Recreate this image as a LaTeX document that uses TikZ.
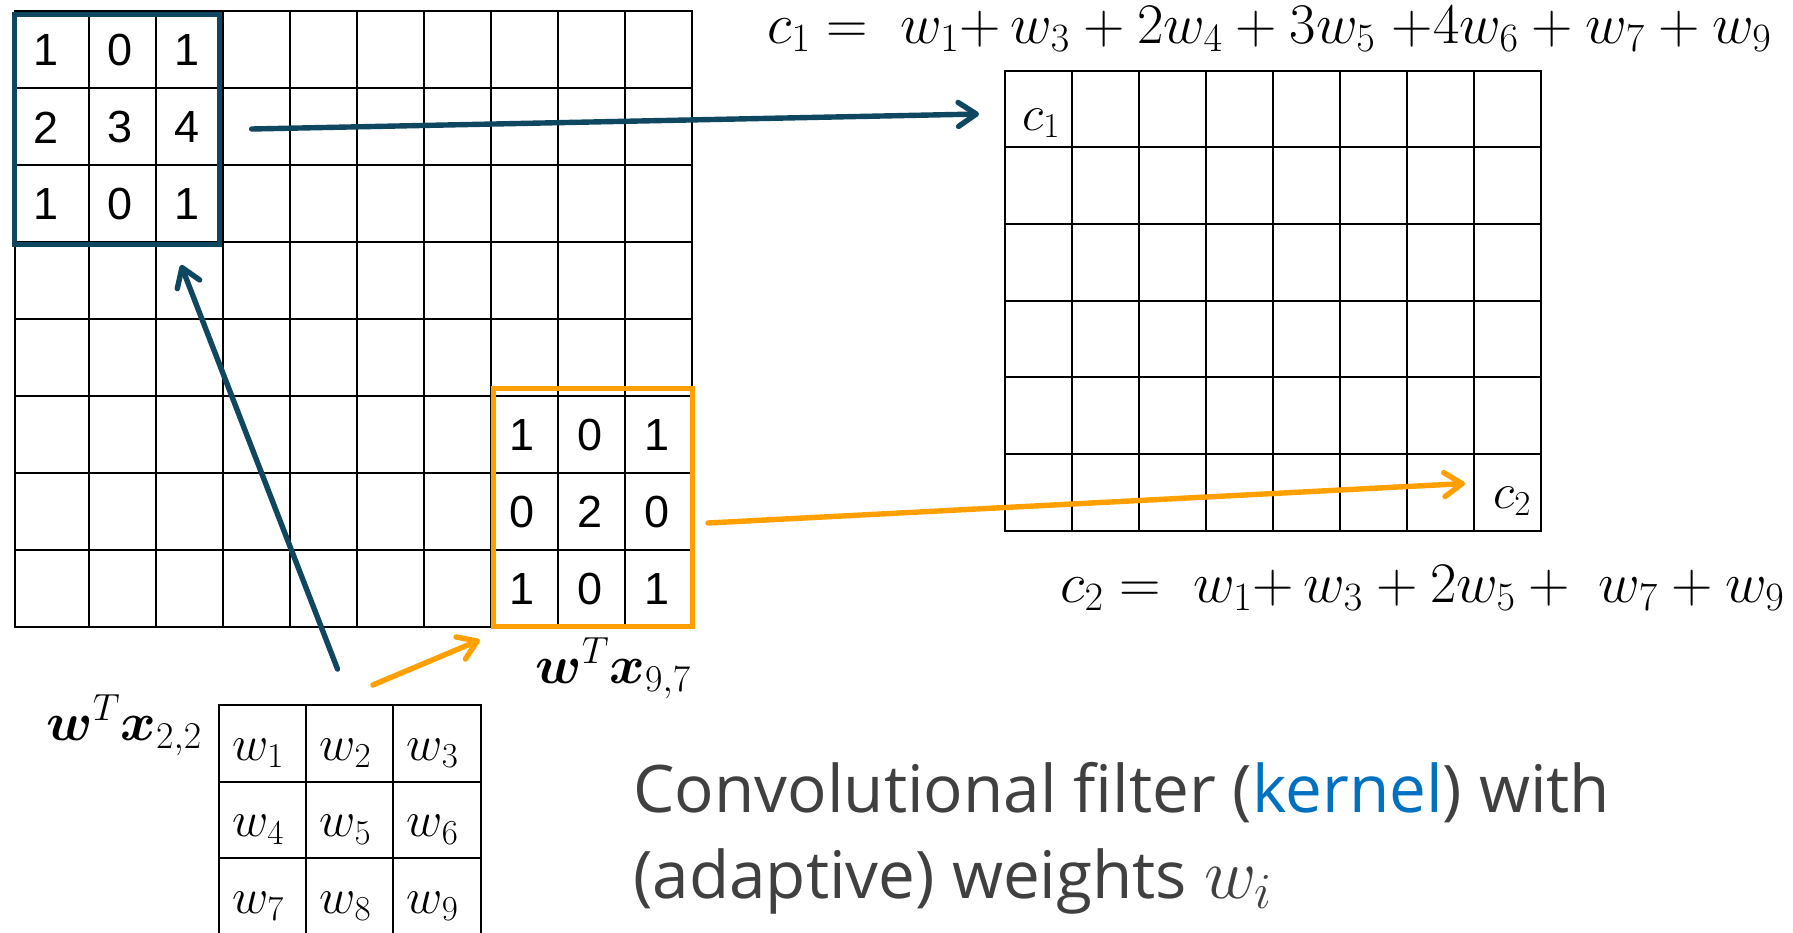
\RequirePackage{fix-cm}
\documentclass[tikz,border=0pt]{standalone}
\usepackage{amsmath, amssymb, bm}
\usepackage{fontspec}
\usepackage{tikz}
\usetikzlibrary{arrows.meta}
\newfontfamily\digitfont{Liberation Sans}
\newfontfamily\slidefont{Open Sans}
\definecolor{winblue}{HTML}{0F4761}
\definecolor{winorange}{HTML}{FFA000}
\definecolor{kernelblue}{HTML}{0070C0}
\definecolor{slidegray}{HTML}{404040}

\begin{document}
\begin{tikzpicture}[x=0.5pt, y=-0.5pt,
    gridline/.style={line width=1pt, line cap=rect, black},
    window/.style={line width=2.5pt},
    entry/.style={inner sep=0pt, font=\digitfont\fontsize{22.5}{26}\selectfont},
    weight/.style={inner sep=0pt, anchor=base west, font=\fontsize{25}{28}\selectfont},
    mathlabel/.style={inner sep=0pt, anchor=base west, font=\fontsize{27}{30}\selectfont},
    formula/.style={inner sep=0pt, anchor=base west, font=\fontsize{28.7}{32}\selectfont},
    slidetext/.style={inner sep=0pt, anchor=base west, text=slidegray, font=\slidefont\fontsize{32.8}{40}\selectfont},
    link/.style={line width=2.7pt, line cap=round, -{Straight Barb[round, length=9pt, width=12pt]}}]
    \useasboundingbox (0,0) rectangle (1793,932);

    % input image
    \foreach \x in {14.7, 88.6, 156.1, 223.1, 290.2, 357.2, 424.2, 491.3, 558.3, 625.3, 692.4}
        \draw[gridline] (\x, 11.4) -- (\x, 626.6);
    \foreach \k in {0,...,8}
        \draw[gridline] (14.7, 11.4+76.9*\k) -- (692.4, 11.4+76.9*\k);

    % feature map
    \foreach \k in {0,...,8}
        \draw[gridline] (1005+67*\k, 70.8) -- (1005+67*\k, 530.7);
    \foreach \k in {0,...,6}
        \draw[gridline] (1005, 70.8+76.65*\k) -- (1541, 70.8+76.65*\k);

    % kernel
    \foreach \k in {0,...,3}
        \draw[gridline] (219+87.2*\k, 705) -- (219+87.2*\k, 935);
    \foreach \k in {0,...,2}
        \draw[gridline] (219, 705+76.7*\k) -- (480.6, 705+76.7*\k);
    \foreach \r in {0,1,2}
        \foreach \c in {1,2,3} {
            \pgfmathtruncatemacro\idx{3*\r+\c}
            \node[weight] (w\idx) at (232+87.2*\c-87.2, 760+76.7*\r) {$w_{\idx}$};
        }

    % window entries
    \foreach \v [count=\n from 0] in {1,0,1,2,3,4,1,0,1} {
        \pgfmathtruncatemacro\c{mod(\n,3)}
        \pgfmathtruncatemacro\r{floor(\n/3)}
        \pgfmathsetmacro\xx{{46,120,187}[\c]}
        \node[entry] (b\n) at (\xx, 50.5+76.9*\r) {\v};
    }
    \foreach \v [count=\n from 0] in {1,0,1,0,2,0,1,0,1} {
        \pgfmathtruncatemacro\c{mod(\n,3)}
        \pgfmathtruncatemacro\r{floor(\n/3)}
        \pgfmathsetmacro\xx{{522.5,590,656.6}[\c]}
        \node[entry] (o\n) at (\xx, 435+76.9*\r) {\v};
    }

    \draw[window, winblue] (14.7,14.7) rectangle (219.5,244.9);
    \draw[window, winorange] (493.6,388.6) rectangle (692.4,626.5);

    % labels and formulas
    \node[mathlabel] (lblfirst) at (46,740) {$\bm{w}^T\bm{x}_{2,2}$};
    \node[mathlabel] (lbllast) at (535,683) {$\bm{w}^T\bm{x}_{9,7}$};
    \node[weight] (cfirst) at (1022,130) {$c_1$};
    \node[weight] (clast) at (1493,508) {$c_2$};
    \node[formula] (cone) at (767,43) {$c_1 =\; w_1{+}\, w_3 + 2w_4 + 3w_5 \;{+}4w_6 + w_7 + w_9$};
    \node[formula] (ctwo) at (1060,602) {$c_2 =\; w_1{+}\, w_3 + 2w_5 +\; w_7 + w_9$};
    \node[slidetext] (captionone) at (633,812) {Convolutional filter (\textcolor{kernelblue}{kernel}) with};
    \node[slidetext] (captiontwo) at (633,898) {(adaptive) weights {\fontsize{36}{40}\selectfont$w_i$}};

    % arrows
    \coordinate (bluefrom) at (251.6,129);
    \coordinate (blueto) at (979,114);
    \coordinate (kerneltail) at (337.5,669);
    \coordinate (bluehead) at (181,265);
    \coordinate (orangefrom) at (708,523);
    \coordinate (orangeto) at (1465,483.5);
    \coordinate (kernelhint) at (372.8,685);
    \coordinate (orangehead) at (479.8,640);
    \draw[link, winblue] (bluefrom) -- (blueto);
    \draw[link, winblue] (kerneltail) -- (bluehead);
    \draw[link, winorange] (orangefrom) -- (orangeto);
    \draw[link, winorange] (kernelhint) -- (orangehead);
\end{tikzpicture}
\end{document}
